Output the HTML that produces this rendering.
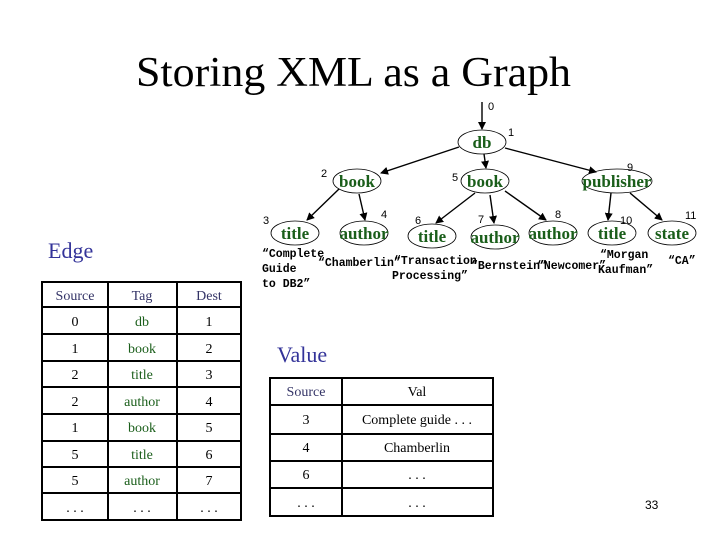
<!DOCTYPE html>
<html><head><meta charset="utf-8"><style>
html,body{margin:0;padding:0;background:#fff;}
svg{display:block;}
</style></head><body>
<svg width="720" height="540" viewBox="0 0 720 540" xmlns="http://www.w3.org/2000/svg">
<defs><marker id="a" markerWidth="8" markerHeight="8" refX="7" refY="4" orient="auto" markerUnits="userSpaceOnUse"><path d="M0,0 L8,4 L0,8 z" fill="#000"/></marker></defs>
<text x="136" y="86" font-family="Liberation Serif, serif" font-size="42" textLength="435" lengthAdjust="spacingAndGlyphs">Storing XML as a Graph</text>

<g stroke="#000" stroke-width="1.4" marker-end="url(#a)">
<line x1="482" y1="102" x2="482" y2="129"/>
<line x1="459" y1="147" x2="381" y2="173"/>
<line x1="484" y1="154" x2="486" y2="168"/>
<line x1="505" y1="148" x2="596" y2="172"/>
<line x1="339" y1="189" x2="307" y2="220"/>
<line x1="359" y1="194" x2="365" y2="220"/>
<line x1="475" y1="193" x2="436" y2="223"/>
<line x1="490" y1="195" x2="494" y2="223"/>
<line x1="505" y1="191" x2="546" y2="220"/>
<line x1="611" y1="193" x2="608" y2="220"/>
<line x1="630" y1="193" x2="662" y2="220"/>
</g>
<g fill="none" stroke="#000" stroke-width="0.8">
<ellipse cx="482" cy="142" rx="24" ry="12"/>
<ellipse cx="357" cy="181" rx="24" ry="12"/>
<ellipse cx="485" cy="181" rx="24" ry="12"/>
<ellipse cx="617" cy="181" rx="35" ry="12"/>
<ellipse cx="295" cy="233" rx="24" ry="12"/>
<ellipse cx="364" cy="233" rx="24" ry="12"/>
<ellipse cx="432" cy="236" rx="24" ry="12"/>
<ellipse cx="495" cy="237" rx="24" ry="12"/>
<ellipse cx="553" cy="233" rx="24" ry="12"/>
<ellipse cx="612" cy="233" rx="24" ry="12"/>
<ellipse cx="672" cy="233" rx="24" ry="12"/>
</g>
<g font-family="Liberation Serif, serif" font-size="17" fill="#1a5e1a" font-weight="bold" text-anchor="middle">
<text x="482" y="148">db</text>
<text x="357" y="187">book</text>
<text x="485" y="187">book</text>
<text x="617" y="187">publisher</text>
<text x="295" y="239">title</text>
<text x="364" y="239">author</text>
<text x="432" y="242">title</text>
<text x="495" y="243">author</text>
<text x="553" y="239">author</text>
<text x="612" y="239">title</text>
<text x="672" y="239">state</text>
</g>
<g font-family="Liberation Sans, sans-serif" font-size="11">
<text x="488" y="110">0</text>
<text x="508" y="136">1</text>
<text x="321" y="177">2</text>
<text x="452" y="181">5</text>
<text x="627" y="171">9</text>
<text x="263" y="224">3</text>
<text x="381" y="218">4</text>
<text x="415" y="224">6</text>
<text x="478" y="223">7</text>
<text x="555" y="218">8</text>
<text x="620" y="224">10</text>
<text x="685" y="219">11</text>
</g>
<g font-family="Liberation Mono, monospace" font-size="11.5" font-weight="bold">
<text x="262" y="257">“Complete</text>
<text x="262" y="272">Guide</text>
<text x="262" y="287">to DB2”</text>
<text x="318" y="266">“Chamberlin”</text>
<text x="394" y="264">“Transaction</text>
<text x="392" y="279">Processing”</text>
<text x="471" y="269">“Bernstein”</text>
<text x="537" y="269">“Newcomer”</text>
<text x="600" y="258">“Morgan</text>
<text x="598" y="273">Kaufman”</text>
<text x="668" y="264">“CA”</text>
</g>

<text x="48" y="258" font-family="Liberation Serif, serif" font-size="22" fill="#333399">Edge</text>
<text x="277" y="362" font-family="Liberation Serif, serif" font-size="22" fill="#333399">Value</text>

<g stroke="#000" stroke-width="2" fill="none">
<rect x="42" y="282" width="199" height="238"/>
<line x1="108" y1="282" x2="108" y2="520"/>
<line x1="177" y1="282" x2="177" y2="520"/>
<line x1="42" y1="307" x2="241" y2="307"/>
<line x1="42" y1="334" x2="241" y2="334"/>
<line x1="42" y1="361" x2="241" y2="361"/>
<line x1="42" y1="387" x2="241" y2="387"/>
<line x1="42" y1="414" x2="241" y2="414"/>
<line x1="42" y1="441" x2="241" y2="441"/>
<line x1="42" y1="467" x2="241" y2="467"/>
<line x1="42" y1="493" x2="241" y2="493"/>
<rect x="270" y="378" width="223" height="138"/>
<line x1="342" y1="378" x2="342" y2="516"/>
<line x1="270" y1="405" x2="493" y2="405"/>
<line x1="270" y1="434" x2="493" y2="434"/>
<line x1="270" y1="461" x2="493" y2="461"/>
<line x1="270" y1="488" x2="493" y2="488"/>
</g>
<g font-family="Liberation Serif, serif" font-size="14" text-anchor="middle">
<text x="75" y="300" fill="#333366">Source</text><text x="142" y="300" fill="#333366">Tag</text><text x="209" y="300" fill="#333366">Dest</text>
<text x="75" y="326">0</text><text x="142" y="326" fill="#1a5e1a">db</text><text x="209" y="326">1</text>
<text x="75" y="353">1</text><text x="142" y="353" fill="#1a5e1a">book</text><text x="209" y="353">2</text>
<text x="75" y="379">2</text><text x="142" y="379" fill="#1a5e1a">title</text><text x="209" y="379">3</text>
<text x="75" y="406">2</text><text x="142" y="406" fill="#1a5e1a">author</text><text x="209" y="406">4</text>
<text x="75" y="432">1</text><text x="142" y="432" fill="#1a5e1a">book</text><text x="209" y="432">5</text>
<text x="75" y="459">5</text><text x="142" y="459" fill="#1a5e1a">title</text><text x="209" y="459">6</text>
<text x="75" y="485">5</text><text x="142" y="485" fill="#1a5e1a">author</text><text x="209" y="485">7</text>
<text x="75" y="512">. . .</text><text x="142" y="512">. . .</text><text x="209" y="512">. . .</text>
<text x="306" y="396" fill="#333366">Source</text><text x="417" y="396">Val</text>
<text x="306" y="424">3</text><text x="417" y="424">Complete guide . . .</text>
<text x="306" y="452">4</text><text x="417" y="452">Chamberlin</text>
<text x="306" y="479">6</text><text x="417" y="479">. . .</text>
<text x="306" y="507">. . .</text><text x="417" y="507">. . .</text>
</g>
<text x="645" y="509" font-family="Liberation Sans, sans-serif" font-size="12">33</text>
</svg>
</body></html>
